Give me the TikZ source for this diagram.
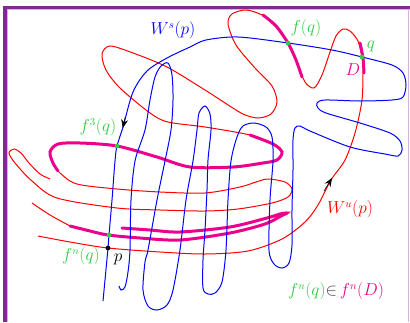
\documentclass[tikz,border=0pt]{standalone}
\usepackage{amssymb}
\usepackage{tikz}
\usetikzlibrary{arrows.meta}
\definecolor{framepurple}{RGB}{128,44,142}
\definecolor{lightpurple}{RGB}{214,178,224}
\definecolor{ptgreen}{RGB}{46,204,64}
\tikzset{
	sman/.style={draw=blue,line width=1pt},
	uman/.style={draw=red,line width=1pt},
	dimg/.style={draw=magenta,line width=3pt,line cap=round},
	gpt/.style={circle,fill=ptgreen,inner sep=1.7pt},
	bpt/.style={circle,fill=black,inner sep=1.7pt},
	flowarrow/.style={-{Stealth[length=3mm,width=2.4mm]},line width=0.6pt},
	lbl/.style={font=\fontsize{16}{19}\selectfont,inner sep=0pt}
}

\begin{document}
\begin{tikzpicture}[x=1pt,y=-1pt]
	\useasboundingbox (0,0) rectangle (410,322);
	\fill[framepurple] (3,5.5) rectangle (6.5,322);
	\fill[framepurple] (3,5.5) rectangle (410,9);
	\draw[lightpurple,line width=1pt] (7,9.5) -- (7,322);
	\draw[lightpurple,line width=1pt] (7,9.5) -- (410,9.5);
	\draw[lightpurple,line width=1pt] (408.5,9) -- (408.5,322);
	\draw[uman] plot[smooth] coordinates {(38,236) (70,242) (108,248) (160,252) (205,254) (248,251) (282,239) (305,222) (318,205) (331,180) (345,160) (355,133) (362,100) (363,67) (362,57) (358,41) (350,31) (343,29) (336,36) (330,52) (322,75) (314,88) (305,82) (298,65) (288,43) (276,26) (262,15) (246,10) (232,14) (228,24) (236,45) (255,68) (272,86) (277,102) (271,114) (258,118) (243,114) (222,101) (205,90) (167,67) (133,53) (110,46) (102,54) (106,70) (120,88) (150,113) (168,122) (205,127) (250,135) (273,144) (282,152) (277,160) (263,163) (233,167) (190,167) (157,157) (117,146) (80,143) (58,144) (50,152) (53,163) (60,173) (77,184) (117,189) (160,192) (205,193) (240,187) (256,182) (268,179) (285,182) (292,189) (288,197) (272,203) (238,209) (205,211) (160,210) (117,208) (57,198) (32,181) (15,163) (9,153) (14,149) (21,153) (29,163) (40,174) (50,179)};
	\draw[uman] plot[smooth] coordinates {(32,203) (50,215) (72,227)};
	\draw[dimg] plot[smooth] coordinates {(360,43) (363,58) (364,73)};
	\draw[dimg] plot[smooth] coordinates {(263,15) (276,26) (288,43) (296,60) (302,77)};
	\draw[dimg] plot[smooth] coordinates {(250,135) (273,144) (282,152) (277,160) (263,163) (233,167) (190,167) (157,157) (117,146) (80,143) (58,144) (50,152) (53,163) (58,171)};
	\draw[dimg] plot[smooth] coordinates {(70,226) (90,231) (108,235) (140,238) (180,240) (230,233) (265,224) (281,216) (287,213) (280,214) (267,218) (230,227) (180,232) (150,230) (122,228)};
	\draw[sman] plot[smooth] coordinates {(103,301) (105,280) (108,248) (109,235) (112,200) (115,161) (117,146) (123,127) (133,92) (147,71) (167,58) (190,47) (206,40) (238,37) (288,43) (332,50) (362,57) (392,65) (403,73) (406,85) (403,97) (392,100) (360,101) (325,100) (317,103) (318,108) (326,113) (360,123) (390,133) (400,141) (402,150) (398,156) (385,154) (350,147) (310,131) (300,126) (295,128) (293,140) (293,170) (292,210) (292,245) (289,263) (282,268) (274,264) (269,250) (270,200) (273,161) (272,137) (266,127) (254,123) (243,126) (237,137) (231,161) (228,200) (226,250) (222,282) (215,293) (208,294) (203,288) (203,260) (205,230) (207,190) (208,160) (211,130) (210,114) (205,106) (199,113) (197,130) (193,161) (186,200) (180,250) (173,290) (167,305) (157,310) (148,306) (143,290) (145,262) (148,250) (157,200) (165,161) (171,130) (173,100) (172,75) (168,63) (161,66) (155,77) (150,100) (145,130) (135,161) (131,200) (130,250) (128,272) (125,287) (121,290) (119,286)};
	\draw[flowarrow] (125.2,117) -- (122.8,128);
	\draw[flowarrow] (324,191) -- (332,178);
	\node[bpt] (p) at (108,248) {};
	\node[gpt] (fnq) at (109,235) {};
	\node[gpt] (f3q) at (117,146) {};
	\node[gpt] (fq) at (288,43) {};
	\node[gpt] (q) at (362,57) {};
	\node[lbl,text=blue] (wslbl) at (173,30) {$W^s(p)$};
	\node[lbl,text=ptgreen] (fqlbl) at (306,28) {$f(q)$};
	\node[lbl,text=ptgreen] (qlbl) at (371,46) {$q$};
	\node[lbl,text=magenta] (dlbl) at (353,70) {$D$};
	\node[lbl,text=ptgreen] (f3lbl) at (98,127) {$f^3(q)$};
	\node[lbl,text=ptgreen] (fnlbl) at (81,256) {$f^n(q)$};
	\node[lbl] (plbl) at (118,259) {$p$};
	\node[lbl,text=red] (wulbl) at (350,209) {$W^u(p)$};
	\node[lbl] (inlbl) at (336,291) {\textcolor{ptgreen}{$f^n(q)$}\textcolor{black!70}{$\in$}\,\textcolor{magenta}{$f^n(D)$}};
\end{tikzpicture}
\end{document}
